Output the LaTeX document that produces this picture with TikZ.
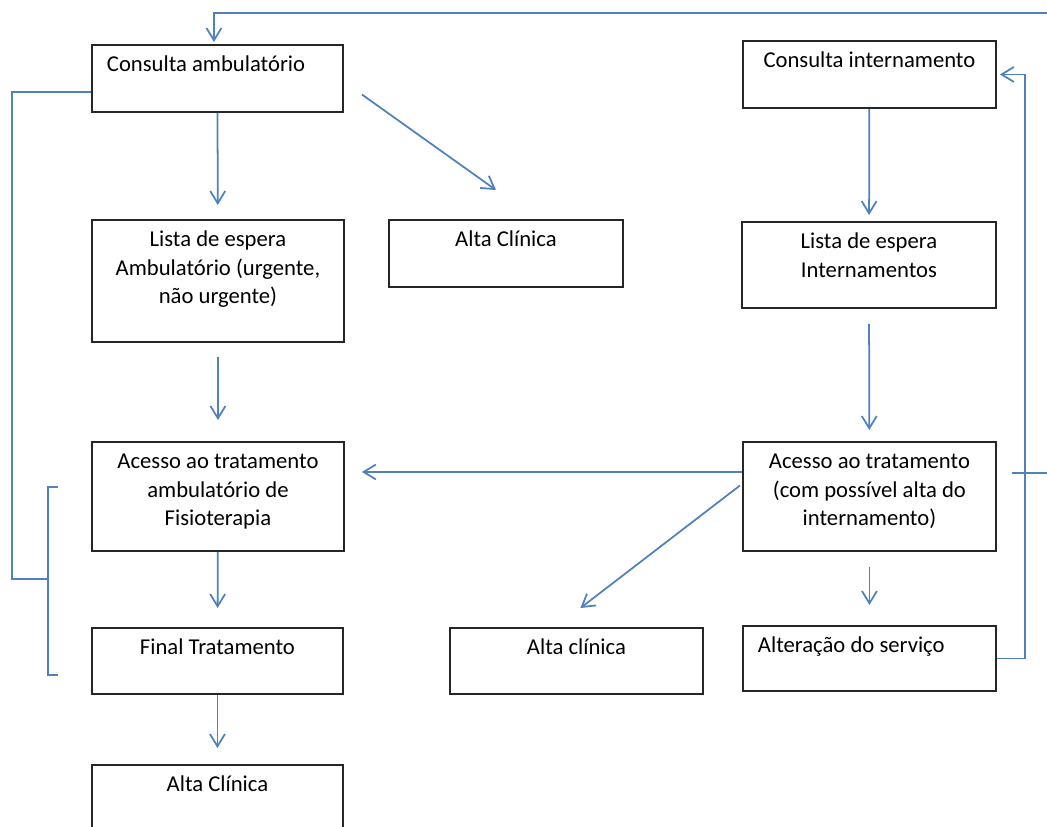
\documentclass[tikz,border=0pt]{standalone}
\usepackage{fontspec}
\setmainfont{Carlito}
\usetikzlibrary{arrows.meta}
\definecolor{linkblue}{RGB}{79,129,189}
\newcommand{\cell}[3]{\parbox[c][#2][t]{#1}{\vskip 4pt\centering\strut #3\par}}
\newcommand{\cellL}[3]{\parbox[c][#2][t]{#1}{\vskip 4pt\raggedright\hspace*{0.3cm}\strut #3\par}}

\begin{document}
\begin{tikzpicture}[x=0.02cm, y=-0.02cm,
  every node/.style={font=\fontsize{12.9}{16.2}\selectfont},
  box/.style={draw=black!85, line width=1.1pt, inner sep=0pt, anchor=north west},
  link/.style={draw=linkblue, line width=1pt},
  arr/.style={link, -{Straight Barb[length=7pt,width=8.5pt]}}]
\useasboundingbox (0,0) rectangle (1047,826);
\clip (0,0) rectangle (1047,826);

\node[box] (ca) at (91,44) {\cellL{5.02cm}{1.34cm}{Consulta ambulatório}};
\node[box] (ci) at (742,40) {\cell{5.06cm}{1.34cm}{Consulta internamento}};
\node[box] (la) at (91,219) {\cell{5.04cm}{2.44cm}{Lista de espera\\Ambulatório (urgente,\\não urgente)}};
\node[box] (ac1) at (388,219) {\cell{4.68cm}{1.34cm}{Alta Clínica}};
\node[box] (li) at (741,221) {\cell{5.08cm}{1.72cm}{Lista de espera\\Internamentos}};
\node[box] (aa) at (91,441) {\cell{5.04cm}{2.18cm}{Acesso ao tratamento\\ambulatório de\\Fisioterapia}};
\node[box] (ai) at (742,441) {\cell{5.06cm}{2.18cm}{Acesso ao tratamento\\(com possível alta do\\internamento)}};
\node[box] (ft) at (91,627) {\cell{5.02cm}{1.32cm}{Final Tratamento}};
\node[box] (ac2) at (449,627) {\cell{5.06cm}{1.32cm}{Alta clínica}};
\node[box] (alt) at (742,625) {\cellL{5.06cm}{1.30cm}{Alteração do serviço}};
\node[box] (ac3) at (91,764) {\cell{5.02cm}{1.6cm}{Alta Clínica}};

\coordinate (outT) at (1047,13);
\coordinate (outR) at (1047,473);
\coordinate (brk) at (48,579);

\draw[arr, shorten >=0.04cm] (outT) -| ([xshift=-0.07cm]ca.north);
\draw[arr, shorten >=0.28cm] (ca) -- (la);
\draw[arr] ([shift={(18,16)}]ca.east) -- ([shift={(-10,-29)}]ac1.north);
\draw[arr, shorten <=0.28cm, shorten >=0.42cm] (la) -- (aa);
\draw[arr, shorten >=0.38cm] (aa) -- (ft);
\draw[arr, shorten >=0.32cm] (ft) -- (ac3);
\draw[arr, shorten >=0.12cm] (ci) -- (li);
\draw[arr, shorten <=0.3cm, shorten >=0.22cm] (li) -- (ai);
\draw[arr, shorten >=0.34cm] ([yshift=0.49cm]ai.west) -- ([yshift=0.49cm]aa.east);
\draw[arr] ([shift={(-2,-11)}]ai.west) -- ([shift={(4,-19)}]ac2.north);
\draw[arr, shorten <=0.3cm, shorten >=0.4cm] (ai) -- (alt);
\draw[arr, shorten >=0.06cm] (alt.east) -- ++(28,0) |- (ci.east);
\draw[link, shorten >=0.3cm] (outR) -- (outR -| ai.east);
\draw[link] ([yshift=-0.27cm]ca.west) -- ++(-79,0) |- (brk);
\draw[link] (58,487) -- (48,487) -- (48,675) -- (58,675);
\end{tikzpicture}
\end{document}
